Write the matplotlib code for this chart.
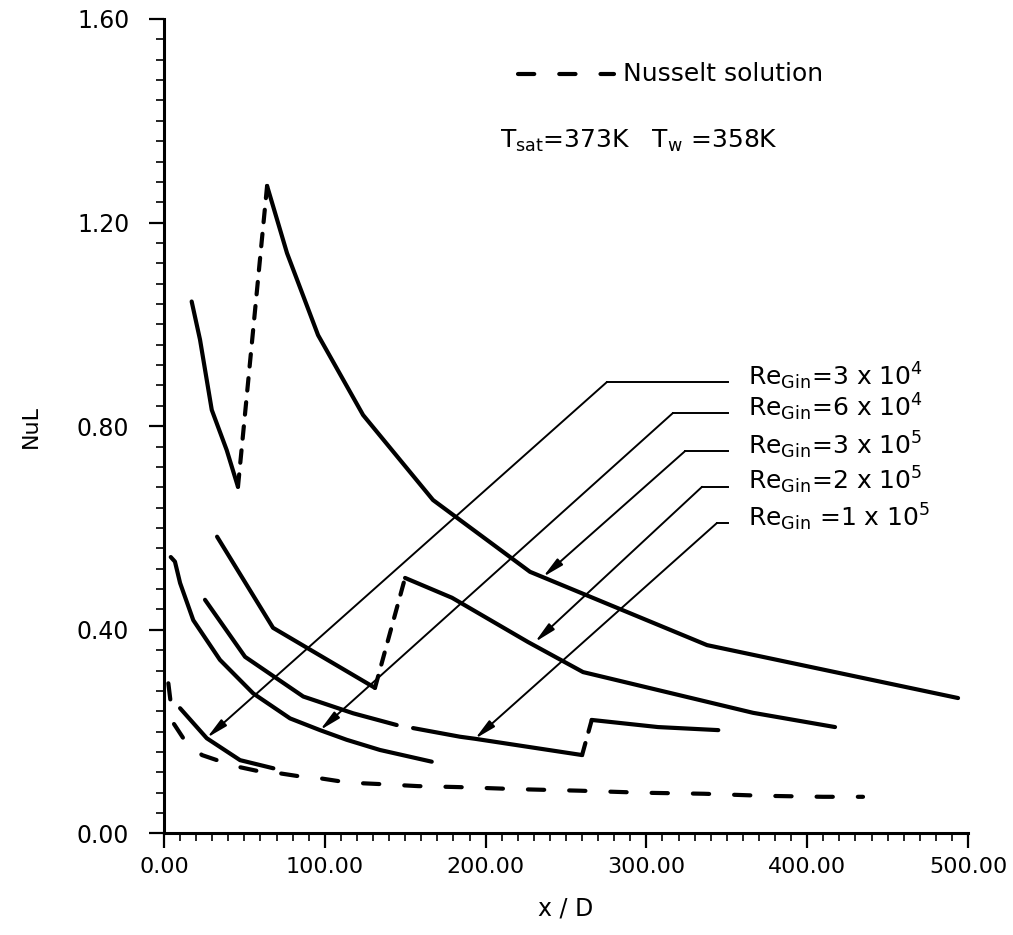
import matplotlib
matplotlib.use("Agg")
import matplotlib.pyplot as plt
from matplotlib.ticker import MultipleLocator, FormatStrFormatter

# --- Donnees (x/D, NuL) ---
# Re_Gin = 3e5 (courbe du haut), deux morceaux relies par un saut en tirets
re3e5_x1 = [17.2, 22.4, 29.7, 39.0, 46.0]
re3e5_y1 = [1.045, 0.970, 0.832, 0.753, 0.681]
re3e5_x2 = [64.1, 76.5, 95.8, 123.8, 167.3, 227.6, 337.7, 493.8]
re3e5_y2 = [1.272, 1.140, 0.979, 0.822, 0.655, 0.514, 0.370, 0.266]

# Re_Gin = 2e5
re2e5_x1 = [33.0, 67.8, 131.2]
re2e5_y1 = [0.583, 0.404, 0.286]
re2e5_x2 = [149.9, 179.1, 226.4, 260.6, 366.3, 417.3]
re2e5_y2 = [0.502, 0.463, 0.376, 0.317, 0.237, 0.209]

# Re_Gin = 6e4
re6e4_x = [4.2, 6.8, 10.0, 18.2, 34.8, 55.5, 78.4, 97.0, 113.6, 134.3, 166.5]
re6e4_y = [0.543, 0.534, 0.492, 0.419, 0.341, 0.275, 0.226, 0.203, 0.184, 0.164, 0.141]

# Re_Gin = 1e5
re1e5_x1 = [25.5, 50.4, 86.6, 117.7, 144.7]
re1e5_y1 = [0.459, 0.347, 0.269, 0.236, 0.213]
re1e5_x2 = [154.9, 184.1, 193.4, 260.0]
re1e5_y2 = [0.207, 0.190, 0.186, 0.154]
re1e5_x3 = [266.0, 307.2, 344.7]
re1e5_y3 = [0.223, 0.209, 0.203]

# Re_Gin = 3e4
re3e4_x = [10.0, 26.6, 47.3, 68.0]
re3e4_y = [0.246, 0.187, 0.144, 0.128]

# Solution de Nusselt
nus_x = [2.7, 4.2, 5.8, 11.8, 23.6, 32.9, 46.0, 57.8, 70.2, 82.6, 95.8, 108.2,
         120.6, 134.3, 157.9, 184.1, 220.0, 258.7, 297.9, 335.8, 372.5, 409.8, 434.7]
nus_y = [0.295, 0.256, 0.217, 0.188, 0.154, 0.144, 0.131, 0.123, 0.119, 0.113, 0.109, 0.103,
         0.099, 0.097, 0.093, 0.091, 0.087, 0.084, 0.080, 0.078, 0.074, 0.072, 0.072]

# Etiquettes Re et lignes de rappel
re_labels = [r"Re$_{Gin}$=3 x 10$^{4}$", r"Re$_{Gin}$=6 x 10$^{4}$", r"Re$_{Gin}$=3 x 10$^{5}$",
             r"Re$_{Gin}$=2 x 10$^{5}$", r"Re$_{Gin}$ =1 x 10$^{5}$"]
label_y = [0.887, 0.826, 0.751, 0.681, 0.610]
corner_x = [275.5, 316.5, 324.0, 334.6, 343.9]
tip_x = [26.7, 97.0, 235.7, 230.7, 193.4]
tip_y = [0.188, 0.203, 0.504, 0.376, 0.186]
line_end_x = 351.0
text_x = 363.0

plt.rcParams["font.family"] = "DejaVu Sans"
plt.rcParams["mathtext.default"] = "regular"

fig = plt.figure(figsize=(10.13, 9.35), dpi=100)
ax = fig.add_axes([0.1619, 0.1086, 0.7937, 0.8711])

lw = 3.0
solid = dict(color="k", lw=lw, solid_capstyle="round", solid_joinstyle="round")
jump = dict(color="k", lw=lw, dashes=(3.0, 2.8), dash_capstyle="round")
nus = dict(color="k", lw=lw, dashes=(3.9, 6.0), dash_capstyle="round")

ax.plot(re3e5_x1, re3e5_y1, **solid)
ax.plot([re3e5_x1[-1], re3e5_x2[0]], [re3e5_y1[-1], re3e5_y2[0]], **jump)
ax.plot(re3e5_x2, re3e5_y2, **solid)

ax.plot(re2e5_x1, re2e5_y1, **solid)
ax.plot([re2e5_x1[-1], re2e5_x2[0]], [re2e5_y1[-1], re2e5_y2[0]], **jump)
ax.plot(re2e5_x2, re2e5_y2, **solid)

ax.plot(re6e4_x, re6e4_y, **solid)

ax.plot(re1e5_x1, re1e5_y1, **solid)
ax.plot(re1e5_x2, re1e5_y2, **solid)
ax.plot([re1e5_x2[-1], re1e5_x3[0]], [re1e5_y2[-1], re1e5_y3[0]], **jump)
ax.plot(re1e5_x3, re1e5_y3, **solid)

ax.plot(re3e4_x, re3e4_y, **solid)

ax.plot(nus_x, nus_y, **nus)

# lignes de rappel avec fleches
for lab, ly, cx, tx, ty in zip(re_labels, label_y, corner_x, tip_x, tip_y):
    ax.plot([line_end_x, cx], [ly, ly], color="k", lw=1.4)
    ax.annotate("", xy=(tx, ty), xytext=(cx, ly),
                arrowprops=dict(arrowstyle="-|>,head_length=0.9,head_width=0.18",
                                mutation_scale=14, lw=1.4, color="k",
                                shrinkA=0, shrinkB=0))
    ax.text(text_x, ly - 0.006, lab, fontsize=18, va="baseline", ha="left")

# legende Nusselt
ax.plot([220, 280], [1.492, 1.492], **nus)
ax.text(285.4, 1.492, "Nusselt solution", fontsize=18, va="center", ha="left")
ax.text(209, 1.347, r"T$_{sat}$=373K   T$_{w}$ =358K", fontsize=18, va="baseline", ha="left")

ax.set_xlim(0, 500)
ax.set_ylim(0, 1.6)
ax.spines["top"].set_visible(False)
ax.spines["right"].set_visible(False)
ax.spines["left"].set_linewidth(2.2)
ax.spines["bottom"].set_linewidth(2.2)

ax.xaxis.set_major_locator(MultipleLocator(100))
ax.xaxis.set_minor_locator(MultipleLocator(10))
ax.yaxis.set_major_locator(MultipleLocator(0.4))
ax.yaxis.set_minor_locator(MultipleLocator(0.04))
ax.xaxis.set_major_formatter(FormatStrFormatter("%.2f"))
ax.yaxis.set_major_formatter(FormatStrFormatter("%.2f"))
ax.tick_params(which="major", direction="out", length=11, width=1.6, labelsize=16)
ax.tick_params(axis="x", which="major", pad=6)
ax.tick_params(axis="y", which="major", pad=14, labelsize=17)
ax.tick_params(which="minor", direction="out", length=6, width=1.2)

ax.set_xlabel("x / D", fontsize=17, labelpad=14)
ax.set_ylabel("NuL", fontsize=16, labelpad=26)

fig.savefig("out.png", dpi=100)
